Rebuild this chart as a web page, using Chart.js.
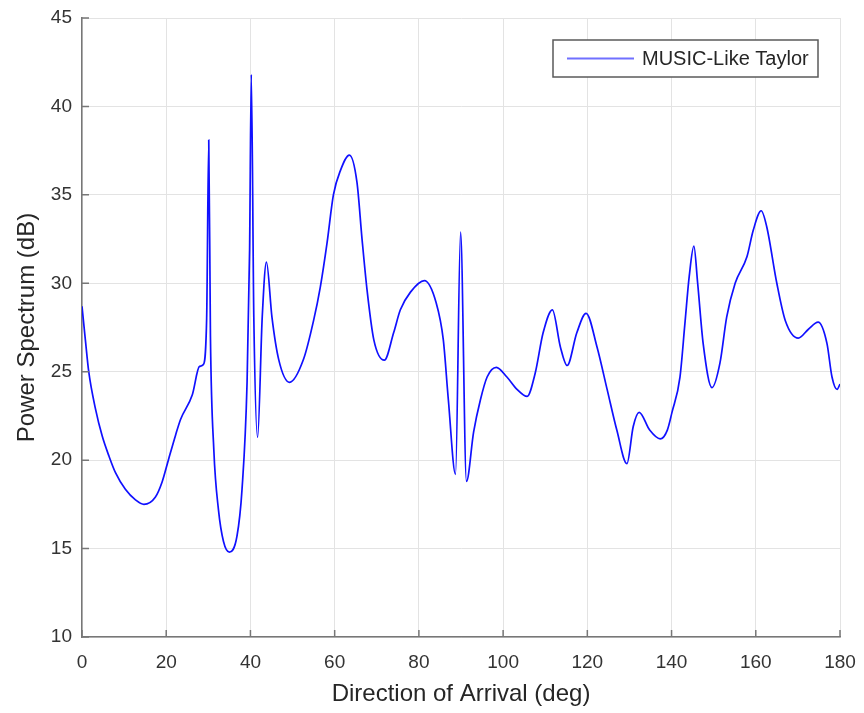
<!DOCTYPE html>
<html lang="en">

<head>
    <meta charset="UTF-8" />
    <title>MUSIC-Like Taylor spectrum</title>
    <style>
        body {
            margin: 0;
            background: #fff;
        }

        #wrap {
            width: 864px;
            height: 713px;
        }
    </style>
    <script src="https://cdn.jsdelivr.net/npm/chart.js"></script>
</head>

<body>
    <div id="wrap"><canvas id="grafico"></canvas></div>

    <script>
        // values
        const deg = [0, 0.8, 1.6, 3.2, 4.8, 6.4, 7.95, 10.3, 12.7, 14.7, 17.4, 19, 20.5, 22.2, 23.4, 26.2, 27.9, 28.8,
            29.6, 30.1, 30.5, 31.3, 32.4, 33.6, 35, 36.8, 38, 39.2, 39.8, 40.2, 40.8, 41.7, 42.8, 43.8, 45.1, 46.7,
            49.3, 52.6, 55, 56.6, 58.2, 59.7, 61.4, 63.5, 65.3, 66.5, 67.7, 69.3, 71.8, 74, 75.6, 78, 81.3, 84.1,
            85.8, 87, 88.7, 89.9, 91.3, 93, 94.6, 96.2, 98.4, 100.9, 103.3, 105.7, 107.6, 109.5, 111.7, 113.6,
            115.2, 117.5, 119.7, 122.3, 124.7, 127, 129.4, 130.9, 132.3, 134.8, 137.3, 139, 140.1, 142, 143.2,
            144.2, 145.3, 146.2, 147.5, 149.6, 151.5, 153.1, 155.1, 157.9, 159.4, 161.3, 162.6, 165, 167, 170.1,
            172.5, 174.8, 176.9, 178.1, 179.3, 180];
        const power = [28.7, 26.8, 25.0, 22.9, 21.36, 20.23, 19.29, 18.35, 17.75, 17.5, 17.9, 18.75, 20.0, 21.4, 22.3, 23.7, 25.3, 25.4,
            28.0, 38.1, 27.0, 20.6, 17.2, 15.4, 14.8, 15.7, 18.35, 24.4, 31.9, 41.8, 28.1, 21.3, 28.1, 31.2, 28.1, 25.7,
            24.4, 25.7, 27.9, 29.8, 32.3, 35.0, 36.4, 37.25, 35.7, 32.5, 29.6, 26.8, 25.65, 27.2, 28.5, 29.5, 30.15, 28.9,
            26.8, 23.4, 19.2, 32.9, 18.8, 21.6, 23.4, 24.7, 25.25, 24.7, 24.0, 23.6, 24.9, 27.2, 28.5, 26.4,
            25.35, 27.2, 28.3, 26.4, 24.0, 21.7, 19.8, 21.9, 22.7, 21.7, 21.2, 21.7, 22.7, 24.7, 27.8,
            30.4, 32.1, 30.0, 26.6, 24.1, 25.5, 28.1, 30.0, 31.5, 33.0, 34.1, 33.2, 30.0, 27.9, 26.9,
            27.4, 27.8, 26.6, 24.7, 24.0, 24.3];
        const xTicks = [0, 20, 40, 60, 80, 100, 120, 140, 160, 180];
        const yTicks = [10, 15, 20, 25, 30, 35, 40, 45];
        const serie = 'MUSIC-Like Taylor';

        const corEixo = '#777777';
        const corTexto = '#333333';
        const fonte = 'Liberation Sans, Arial, sans-serif';

        // small inward tick marks like the original axes
        const marcasEixo = {
            id: 'marcasEixo',
            afterDatasetsDraw(chart) {
                const { ctx, chartArea: a, scales: { x, y } } = chart;
                ctx.save();
                ctx.strokeStyle = corEixo;
                ctx.lineWidth = 1.5;
                ctx.beginPath();
                xTicks.forEach(v => {
                    const px = x.getPixelForValue(v);
                    ctx.moveTo(px, a.bottom);
                    ctx.lineTo(px, a.bottom - 7);
                });
                yTicks.forEach(v => {
                    const py = y.getPixelForValue(v);
                    ctx.moveTo(a.left, py);
                    ctx.lineTo(a.left + 7, py);
                });
                ctx.stroke();
                ctx.restore();
            }
        };

        // legend box inside the top right corner
        const legendaCaixa = {
            id: 'legendaCaixa',
            afterDraw(chart) {
                const { ctx, chartArea: a } = chart;
                const ds = chart.data.datasets[0];
                const w = 265, h = 37;
                const lx = a.right - 22 - w, ly = a.top + 22;
                ctx.save();
                ctx.fillStyle = '#fff';
                ctx.fillRect(lx, ly, w, h);
                ctx.strokeStyle = '#5a5a5a';
                ctx.lineWidth = 1.5;
                ctx.strokeRect(lx, ly, w, h);
                ctx.strokeStyle = ds.borderColor;
                ctx.globalAlpha = 0.6;
                ctx.lineWidth = 2;
                ctx.beginPath();
                ctx.moveTo(lx + 14, ly + h / 2);
                ctx.lineTo(lx + 81, ly + h / 2);
                ctx.stroke();
                ctx.globalAlpha = 1;
                ctx.fillStyle = '#262626';
                ctx.font = '20px ' + fonte;
                ctx.textBaseline = 'middle';
                ctx.fillText(ds.label, lx + 89, ly + h / 2 + 1);
                ctx.restore();
            }
        };

        new Chart(document.getElementById('grafico'), {
            type: 'line',
            data: {
                datasets: [{
                    label: serie,
                    data: deg.map((d, i) => ({ x: d, y: power[i] })),
                    borderColor: '#1010ff',
                    borderWidth: 1.7,
                    pointRadius: 0,
                    cubicInterpolationMode: 'monotone',
                    fill: false
                }]
            },
            options: {
                responsive: true,
                maintainAspectRatio: false,
                animation: false,
                layout: { padding: { left: 0, top: 18, right: 24, bottom: 0 } },
                plugins: {
                    legend: { display: false },
                    tooltip: { enabled: false }
                },
                scales: {
                    x: {
                        type: 'linear',
                        min: 0,
                        max: 180,
                        afterBuildTicks: s => { s.ticks = xTicks.map(v => ({ value: v })); },
                        afterFit: s => { s.height = 76; s.paddingLeft = 0; s.paddingRight = 0; },
                        grid: { color: '#e3e3e3', drawTicks: false },
                        border: { color: corEixo, width: 1.5 },
                        ticks: {
                            color: corTexto,
                            padding: 14,
                            maxRotation: 0,
                            font: { family: fonte, size: 19 }
                        },
                        title: {
                            display: true,
                            text: 'Direction of Arrival (deg)',
                            color: '#262626',
                            padding: { top: 0, bottom: 4 },
                            font: { family: fonte, size: 24 }
                        }
                    },
                    y: {
                        min: 10,
                        max: 45,
                        afterBuildTicks: s => { s.ticks = yTicks.map(v => ({ value: v })); },
                        afterFit: s => { s.width = 82; s.paddingTop = 0; s.paddingBottom = 0; },
                        grid: { color: '#e3e3e3', drawTicks: false },
                        border: { color: corEixo, width: 1.5 },
                        ticks: {
                            color: corTexto,
                            padding: 10,
                            font: { family: fonte, size: 19 }
                        },
                        title: {
                            display: true,
                            text: 'Power Spectrum (dB)',
                            color: '#262626',
                            padding: { top: 13, bottom: 0 },
                            font: { family: fonte, size: 24 }
                        }
                    }
                }
            },
            plugins: [marcasEixo, legendaCaixa]
        });
    </script>
</body>

</html>
